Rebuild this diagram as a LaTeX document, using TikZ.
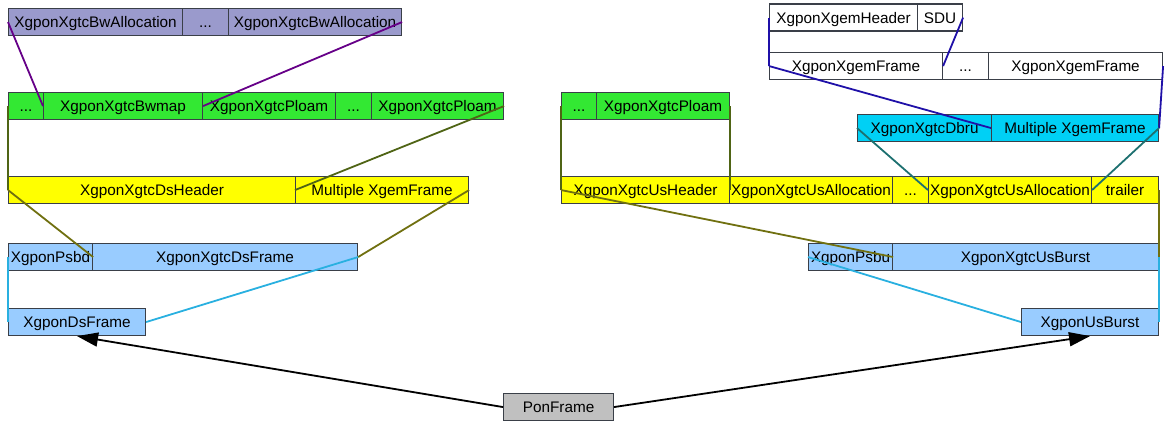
\documentclass[tikz,border=0pt]{standalone}
\usepackage{fontspec}
\setmainfont{Liberation Sans}
\usetikzlibrary{arrows.meta}
\definecolor{bordc}{HTML}{3A3F48}
\definecolor{fpurple}{HTML}{9A9ACC}
\definecolor{fgreen}{HTML}{33E833}
\definecolor{fyellow}{HTML}{FFFF00}
\definecolor{fblue}{HTML}{99CCFF}
\definecolor{fcyan}{HTML}{00D0F5}
\definecolor{fgray}{HTML}{C0C0C0}
\definecolor{lpurple}{HTML}{660088}
\definecolor{ldgreen}{HTML}{4F6415}
\definecolor{lolive}{HTML}{707010}
\definecolor{lcyan}{HTML}{29B0E0}
\definecolor{lblue}{HTML}{1F10A8}
\definecolor{lteal}{HTML}{1D7070}
\tikzset{
  fld/.style={draw=bordc, line width=1.1pt, inner sep=0pt, anchor=north west,
    font=\fontsize{15.3}{18}\selectfont, text=black,
    text height=11.3pt, text depth=0pt},
  pu/.style={fill=fpurple},
  gr/.style={fill=fgreen},
  ye/.style={fill=fyellow},
  bu/.style={fill=fblue},
  cy/.style={fill=fcyan},
  wh/.style={fill=white},
  gy/.style={fill=fgray},
  cpurple/.style={draw=lpurple, line width=1.8pt},
  cdgreen/.style={draw=ldgreen, line width=1.8pt},
  colive/.style={draw=lolive, line width=1.8pt},
  ccyan/.style={draw=lcyan, line width=1.8pt},
  cblue/.style={draw=lblue, line width=1.8pt},
  cteal/.style={draw=lteal, line width=1.8pt},
  carrow/.style={draw=black, line width=1.8pt, -{Triangle[length=21pt,width=14pt]}}
}
\newcommand\fld[6]{%
  \node[fld,#2,minimum width={#4-#3},minimum height=27] (#1) at (#3,-#5) {#6};}
\begin{document}
\begin{tikzpicture}[x=1pt,y=1pt]
\useasboundingbox (0,0) rectangle (1170,-425);
% left: purple row
\fld{ba1}{pu}{8}{182}{8}{XgponXgtcBwAllocation}
\fld{bad}{pu}{182}{228}{8}{...}
\fld{ba2}{pu}{228}{401}{8}{XgponXgtcBwAllocation}
% left: green row
\fld{gd1}{gr}{8}{43}{92}{...}
\fld{bwmap}{gr}{43}{202}{92}{XgponXgtcBwmap}
\fld{pl1}{gr}{202}{335}{92}{XgponXgtcPloam}
\fld{gd2}{gr}{335}{371}{92}{...}
\fld{pl2}{gr}{371}{503}{92}{XgponXgtcPloam}
% left: yellow row
\fld{dsh}{ye}{8}{295}{176}{XgponXgtcDsHeader}
\fld{mxf}{ye}{295}{468}{176}{Multiple XgemFrame}
% left: blue rows
\fld{psbd}{bu}{8}{92}{243}{XgponPsbd}
\fld{xdsf}{bu}{92}{357}{243}{XgponXgtcDsFrame}
\fld{dsf}{bu}{8}{145}{308}{XgponDsFrame}
% root
\fld{pon}{gy}{503}{613}{393}{PonFrame}
% right: white rows
\fld{gh}{wh}{769}{917}{3.5}{XgponXgemHeader}
\fld{sdu}{wh}{917}{962}{3.5}{SDU}
\fld{gf1}{wh}{769}{942}{52}{XgponXgemFrame}
\fld{gfd}{wh}{942}{988}{52}{...}
\fld{gf2}{wh}{988}{1162}{52}{XgponXgemFrame}
% right: green row
\fld{gd3}{gr}{561}{596}{92}{...}
\fld{pl3}{gr}{596}{729}{92}{XgponXgtcPloam}
% right: cyan row
\fld{dbru}{cy}{857}{991}{114}{XgponXgtcDbru}
\fld{mxf2}{cy}{991}{1158}{114}{Multiple XgemFrame}
% right: yellow row
\fld{ush}{ye}{561}{729}{176}{XgponXgtcUsHeader}
\fld{usa1}{ye}{729}{892}{176}{XgponXgtcUsAllocation}
\fld{usd}{ye}{892}{928}{176}{...}
\fld{usa2}{ye}{928}{1091}{176}{XgponXgtcUsAllocation}
\fld{trl}{ye}{1091}{1158}{176}{trailer}
% right: blue rows
\fld{psbu}{bu}{808}{892}{243}{XgponPsbu}
\fld{xusb}{bu}{892}{1158}{243}{XgponXgtcUsBurst}
\fld{usb}{bu}{1021}{1158}{308}{XgponUsBurst}
% connectors left
\draw[cpurple] (ba1.west) -- (bwmap.west);
\draw[cpurple] (ba2.east) -- (bwmap.east);
\draw[cdgreen] (gd1.west) -- (dsh.west);
\draw[cdgreen] (pl2.east) -- (mxf.west);
\draw[colive] (dsh.west) -- (psbd.east);
\draw[colive] (mxf.east) -- (xdsf.east);
\draw[ccyan] (psbd.west) -- (dsf.west);
\draw[ccyan] (xdsf.east) -- (dsf.east);
% connectors right
\draw[cblue] (gh.west) -- (gf1.west);
\draw[cblue] (sdu.east) -- (gf1.east);
\draw[cblue] (gf1.west) -- (mxf2.west);
\draw[cblue] (gf2.east) -- (mxf2.east);
\draw[cteal] (dbru.west) -- (usa2.west);
\draw[cteal] (mxf2.east) -- (usa2.east);
\draw[cdgreen] (gd3.west) -- (ush.west);
\draw[cdgreen] (pl3.east) -- (ush.east);
\draw[colive] (ush.west) -- (psbu.east);
\draw[colive] (trl.east) -- (xusb.east);
\draw[ccyan] (psbu.west) -- (usb.west);
\draw[ccyan] (xusb.east) -- (usb.east);
% arrows
\draw[carrow] (pon.west) -- (dsf.south);
\draw[carrow] (pon.east) -- (usb.south);
\end{tikzpicture}
\end{document}
